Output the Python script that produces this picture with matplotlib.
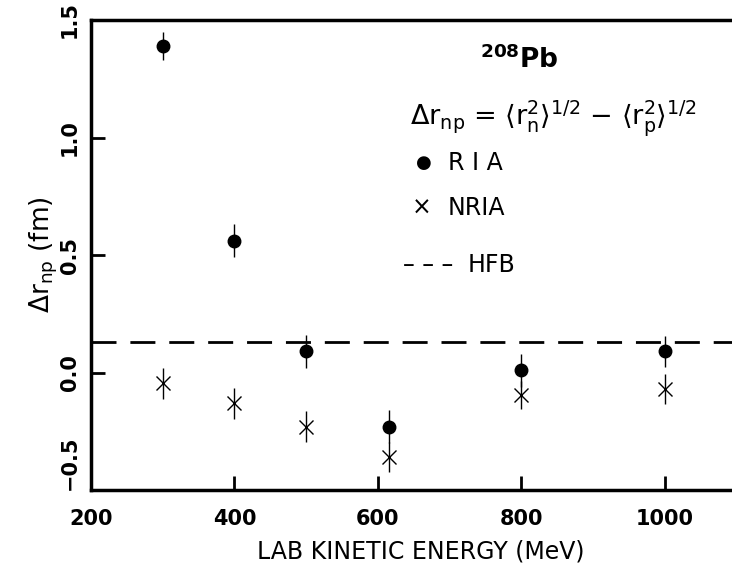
import numpy as np
import matplotlib
matplotlib.use("Agg")
import matplotlib.pyplot as plt

plt.rcParams['font.family'] = ['DejaVu Sans']
plt.rcParams['mathtext.fontset'] = 'dejavusans'
plt.rcParams['mathtext.default'] = 'regular'

# lab kinetic energy (MeV)
energy = [300, 400, 500, 615, 800, 1000]
# RIA results and errors (fm)
ria = [1.39, 0.56, 0.09, -0.23, 0.01, 0.09]
ria_err = [0.06, 0.07, 0.07, 0.07, 0.07, 0.065]
# NRIA results and errors (fm)
nria = [-0.045, -0.13, -0.23, -0.36, -0.095, -0.07]
nria_err = [0.066, 0.066, 0.067, 0.065, 0.06, 0.064]
# HFB prediction
hfb = 0.13

xticks = [200, 400, 600, 800, 1000]
yticks = [-0.5, 0.0, 0.5, 1.0, 1.5]

fig = plt.figure(figsize=(7.32, 5.70), dpi=100)
ax = fig.add_axes([91/732, 80/570, 660/732, 470/570])

ax.errorbar(energy, ria, yerr=ria_err, fmt='o', color='black', ms=9,
            elinewidth=1, capsize=0)
ax.errorbar(energy, nria, yerr=nria_err, fmt='x', color='black', ms=10,
            mew=1, elinewidth=1, capsize=0)
ax.axhline(hfb, color='black', lw=2, dashes=(9, 5))

ax.set_xlim(200, 1120)
ax.set_ylim(-0.5, 1.5)
ax.set_xticks(xticks)
ax.set_yticks(yticks)
ax.set_xticklabels([str(t) for t in xticks], fontsize=15, fontweight='bold')
ylabels = ['%.1f' % t for t in yticks]
ylabels[0] = '\u22120.5'
ax.set_yticklabels(ylabels, fontsize=15, fontweight='bold', rotation=90,
                   va='center')
ax.tick_params(direction='in', length=10, width=2)
ax.tick_params(axis='x', pad=14)
ax.tick_params(axis='y', pad=8)
ax.get_yticklabels()[0].set_va('bottom')
for s in ax.spines.values():
    s.set_linewidth(2.5)

ax.set_xlabel('LAB KINETIC ENERGY (MeV)', fontsize=17, labelpad=7)
ax.set_ylabel(r'$\Delta r_{np}$ (fm)', fontsize=19, labelpad=0)

# legend drawn as text
fig.text(480/732, 1 - 60/570, r'$^{208}$Pb', fontsize=19, fontweight='bold',
         va='center')
fig.text(410/732, 1 - 118/570,
         r'$\Delta r_{np}$ = $\langle r_n^2\rangle^{1/2}$ $-$ $\langle r_p^2\rangle^{1/2}$',
         fontsize=19.5, va='center')
fig.text(416/732, 1 - 163/570, '\u25cf', fontsize=13, va='center')
fig.text(448/732, 1 - 163/570, 'R I A', fontsize=17, va='center')
fig.text(412/732, 1 - 208/570, '\u00d7', fontsize=17, va='center')
fig.text(448/732, 1 - 208/570, 'NRIA', fontsize=17, va='center')
fig.text(403/732, 1 - 265/570, '\u2013 \u2013 \u2013', fontsize=17, va='center')
fig.text(468/732, 1 - 265/570, 'HFB', fontsize=17, va='center')

fig.savefig('out.png', dpi=100)
